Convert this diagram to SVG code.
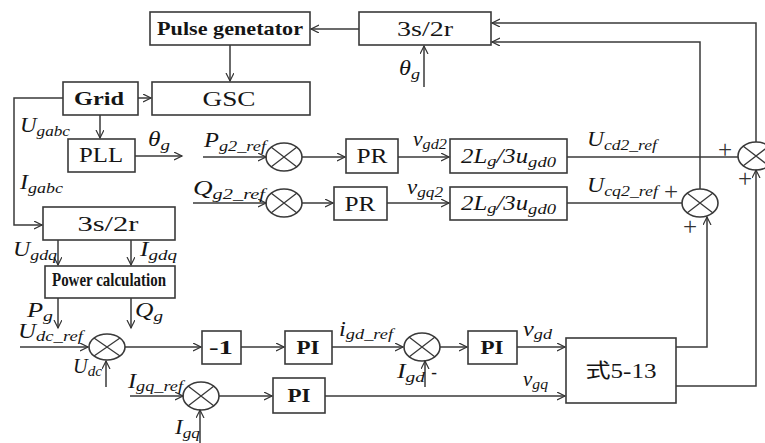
<svg xmlns="http://www.w3.org/2000/svg" width="765" height="443" viewBox="0 0 765 443">
<defs>
<marker id="a" markerWidth="10" markerHeight="10" refX="8" refY="4" orient="auto" markerUnits="userSpaceOnUse">
<path d="M0,0 L8,4 L0,8" fill="none" stroke="#333" stroke-width="1.2"/>
</marker>
<style>
rect{fill:#fff;stroke:#3a3a3a;stroke-width:1.6}
ellipse{fill:#fff;stroke:#3a3a3a;stroke-width:1.6}
.x{stroke:#3a3a3a;stroke-width:1.3;fill:none}
.c path{fill:none;stroke:#3a3a3a;stroke-width:1.5}
.ar{marker-end:url(#a)}
text{font-family:"Liberation Serif","Noto Sans CJK SC",serif;fill:#151515}
.b{font-size:20px;text-anchor:middle}
.bb{font-size:19px;font-weight:bold;text-anchor:middle}
.m{font-size:20px;font-style:italic}
.s{font-size:15px}
.p{font-size:25px;text-anchor:middle;fill:#333}
</style>
</defs>

<g id="pulse"><rect x="150" y="12" width="160" height="33"/><text class="bb" x="230" y="35" font-size="18" textLength="146" lengthAdjust="spacingAndGlyphs">Pulse genetator</text></g>
<g id="s2r_top"><rect x="359" y="12" width="132" height="33"/><text class="b" x="425" y="36" textLength="56" lengthAdjust="spacingAndGlyphs">3s/2r</text></g>
<g id="grid"><rect x="63" y="82" width="75" height="33"/><text class="bb" x="99" y="105" font-size="20" textLength="50" lengthAdjust="spacingAndGlyphs">Grid</text></g>
<g id="gsc"><rect x="152" y="82" width="158" height="33"/><text class="b" x="229" y="106" textLength="53" lengthAdjust="spacingAndGlyphs">GSC</text></g>
<g id="pll"><rect x="68" y="139" width="67" height="33"/><text class="b" x="101" y="162" textLength="44" lengthAdjust="spacingAndGlyphs">PLL</text></g>
<g id="s2r_low"><rect x="43" y="207" width="132" height="33"/><text class="b" x="108" y="231" textLength="61" lengthAdjust="spacingAndGlyphs">3s/2r</text></g>
<g id="power"><rect x="45" y="266" width="130" height="32"/><text class="bb" x="109" y="286" font-size="11" textLength="114" lengthAdjust="spacingAndGlyphs">Power calculation</text></g>
<g id="pr1"><rect x="346" y="139" width="52" height="34"/><text class="b" x="372" y="163" textLength="31" lengthAdjust="spacingAndGlyphs">PR</text></g>
<g id="pr2"><rect x="334" y="187" width="53" height="33"/><text class="b" x="360" y="211" textLength="31" lengthAdjust="spacingAndGlyphs">PR</text></g>
<g id="lg1"><rect x="450" y="139" width="117" height="34"/><text class="m" x="461" y="163" textLength="95" lengthAdjust="spacingAndGlyphs">2L<tspan class="s" dy="3">g</tspan><tspan dy="-3">/3u</tspan><tspan class="s" dy="4">gd0</tspan></text></g>
<g id="lg2"><rect x="450" y="187" width="117" height="33"/><text class="m" x="461" y="210" textLength="95" lengthAdjust="spacingAndGlyphs">2L<tspan class="s" dy="3">g</tspan><tspan dy="-3">/3u</tspan><tspan class="s" dy="4">gd0</tspan></text></g>
<g id="neg1"><rect x="202" y="331" width="39" height="33"/><text class="bb" x="221" y="354" font-size="17" textLength="24" lengthAdjust="spacingAndGlyphs">-1</text></g>
<g id="pi1"><rect x="285" y="331" width="47" height="33"/><text class="bb" x="308" y="354" font-size="18" textLength="23" lengthAdjust="spacingAndGlyphs">PI</text></g>
<g id="pi2"><rect x="468" y="331" width="49" height="33"/><text class="bb" x="492" y="354" font-size="18" textLength="23" lengthAdjust="spacingAndGlyphs">PI</text></g>
<g id="pi3"><rect x="273" y="378" width="52" height="35"/><text class="bb" x="299" y="402" font-size="18" textLength="23" lengthAdjust="spacingAndGlyphs">PI</text></g>
<g id="eq"><rect x="566" y="338" width="110" height="65"/><text class="b" x="621" y="378" textLength="71" lengthAdjust="spacingAndGlyphs">式5-13</text></g>

<g id="sumP"><ellipse cx="284" cy="157" rx="18" ry="14"/><path class="x" d="M271,147 L297,167 M271,167 L297,147"/></g>
<g id="sumQ"><ellipse cx="284" cy="203" rx="18" ry="14"/><path class="x" d="M271,193 L297,213 M271,213 L297,193"/></g>
<g id="sumR1"><ellipse cx="756" cy="156" rx="18" ry="14"/><path class="x" d="M743,146 L769,166 M743,166 L769,146"/></g>
<g id="sumR2"><ellipse cx="700" cy="203" rx="18" ry="14"/><path class="x" d="M687,193 L713,213 M687,213 L713,193"/></g>
<g id="sumDC"><ellipse cx="107" cy="347" rx="18" ry="13"/><path class="x" d="M94,338 L120,356 M94,356 L120,338"/></g>
<g id="sumIgd"><ellipse cx="422" cy="347" rx="18" ry="14"/><path class="x" d="M409,337 L435,357 M409,357 L435,337"/></g>
<g id="sumIgq"><ellipse cx="201" cy="396" rx="18" ry="14"/><path class="x" d="M188,386 L214,406 M188,406 L214,386"/></g>

<g id="connectors" class="c">
<path class="ar" d="M359,29 L311,29"/>
<path class="ar" d="M230,45 L230,81"/>
<path class="ar" d="M424,87 L424,46"/>
<path class="ar" d="M756,142 L756,23 L492,23"/>
<path class="ar" d="M700,189 L700,42 L492,42"/>
<path class="ar" d="M138,98 L151,98"/>
<path class="ar" d="M100,115 L100,138"/>
<path class="ar" d="M63,98 L14,98 L14,225 L42,225"/>
<path class="ar" d="M135,156 L182,156"/>
<path class="ar" d="M58,240 L58,265"/>
<path class="ar" d="M131,240 L131,265"/>
<path class="ar" d="M58,298 L58,328"/>
<path class="ar" d="M131,298 L131,328"/>
<path class="ar" d="M20,347 L88,347"/>
<path class="ar" d="M106,387 L106,361"/>
<path class="ar" d="M125,347 L201,347"/>
<path class="ar" d="M241,347 L284,347"/>
<path class="ar" d="M332,347 L403,347"/>
<path class="ar" d="M425,387 L425,361"/>
<path class="ar" d="M440,347 L467,347"/>
<path class="ar" d="M517,347 L565,347"/>
<path class="ar" d="M130,396 L183,396"/>
<path class="ar" d="M200,443 L200,410"/>
<path class="ar" d="M219,396 L272,396"/>
<path class="ar" d="M325,396 L565,396"/>
<path class="ar" d="M676,347 L707,347 L707,217"/>
<path class="ar" d="M676,386 L756,386 L756,170"/>
<path class="ar" d="M203,157 L266,157"/>
<path class="ar" d="M302,157 L345,157"/>
<path class="ar" d="M398,157 L449,157"/>
<path d="M567,157 L738,157"/>
<path class="ar" d="M193,203 L266,203"/>
<path class="ar" d="M302,203 L333,203"/>
<path class="ar" d="M387,203 L449,203"/>
<path d="M567,203 L682,203"/>
</g>

<g id="labels">
<text class="m" x="148" y="146" textLength="22" lengthAdjust="spacingAndGlyphs">θ<tspan class="s" dy="4">g</tspan></text>
<text class="m" x="399" y="75" textLength="21" lengthAdjust="spacingAndGlyphs">θ<tspan class="s" dy="4">g</tspan></text>
<text class="m" x="20" y="132" textLength="50" lengthAdjust="spacingAndGlyphs">U<tspan class="s" dy="4">gabc</tspan></text>
<text class="m" x="20" y="189" textLength="43" lengthAdjust="spacingAndGlyphs">I<tspan class="s" dy="4">gabc</tspan></text>
<text class="m" x="204" y="147" textLength="62" lengthAdjust="spacingAndGlyphs">P<tspan class="s" dy="4">g2_ref</tspan></text>
<text class="m" x="193" y="195" textLength="72" lengthAdjust="spacingAndGlyphs">Q<tspan class="s" dy="4">g2_ref</tspan></text>
<text class="m" x="413" y="146" textLength="34" lengthAdjust="spacingAndGlyphs">v<tspan class="s" dy="3">gd2</tspan></text>
<text class="m" x="407" y="194" textLength="36" lengthAdjust="spacingAndGlyphs">v<tspan class="s" dy="3">gq2</tspan></text>
<text class="m" x="587" y="146" textLength="70" lengthAdjust="spacingAndGlyphs">U<tspan class="s" dy="4">cd2_ref</tspan></text>
<text class="m" x="587" y="192" textLength="71" lengthAdjust="spacingAndGlyphs">U<tspan class="s" dy="4">cq2_ref</tspan></text>
<text class="p" x="725" y="158">+</text>
<text class="p" x="745" y="187">+</text>
<text class="p" x="671" y="200">+</text>
<text class="p" x="690" y="235">+</text>
<text class="m" x="13" y="256" textLength="44" lengthAdjust="spacingAndGlyphs">U<tspan class="s" dy="4">gdq</tspan></text>
<text class="m" x="140" y="256" textLength="37" lengthAdjust="spacingAndGlyphs">I<tspan class="s" dy="4">gdq</tspan></text>
<text class="m" x="27" y="317" textLength="26" lengthAdjust="spacingAndGlyphs">P<tspan class="s" dy="4">g</tspan></text>
<text class="m" x="135" y="317" textLength="28" lengthAdjust="spacingAndGlyphs">Q<tspan class="s" dy="4">g</tspan></text>
<text class="m" x="18" y="338" textLength="65" lengthAdjust="spacingAndGlyphs">U<tspan class="s" dy="3">dc_ref</tspan></text>
<text class="m" x="73" y="373" textLength="29" lengthAdjust="spacingAndGlyphs">U<tspan class="s" dy="3">dc</tspan></text>
<text class="m" x="128" y="388" textLength="55" lengthAdjust="spacingAndGlyphs">I<tspan class="s" dy="3">gq_ref</tspan></text>
<text class="m" x="175" y="434" textLength="25" lengthAdjust="spacingAndGlyphs">I<tspan class="s" dy="4">gq</tspan></text>
<text class="m" x="339" y="336" textLength="54" lengthAdjust="spacingAndGlyphs">i<tspan class="s" dy="3">gd_ref</tspan></text>
<text class="m" x="397" y="378" textLength="28" lengthAdjust="spacingAndGlyphs">I<tspan class="s" dy="4">gd</tspan></text>
<text x="434" y="378" font-size="17" font-weight="bold" text-anchor="middle">-</text>
<text class="m" x="523" y="336" textLength="29" lengthAdjust="spacingAndGlyphs">v<tspan class="s" dy="3">gd</tspan></text>
<text class="m" x="523" y="386" textLength="25" lengthAdjust="spacingAndGlyphs">v<tspan class="s" dy="3">gq</tspan></text>
</g>
</svg>
